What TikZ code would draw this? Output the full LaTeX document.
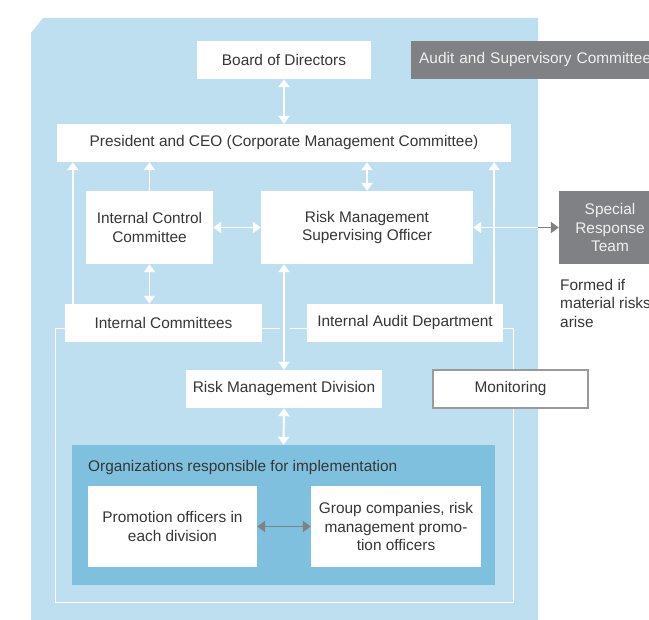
\documentclass[tikz,border=0pt]{standalone}
\usepackage{fontspec}
\setmainfont{Liberation Sans}
\usetikzlibrary{arrows.meta, positioning}
\definecolor{paleblue}{HTML}{BEDFEF}
\definecolor{midblue}{HTML}{7EC0DE}
\definecolor{boxgray}{HTML}{808184}
\definecolor{inkgray}{HTML}{363636}

\begin{document}
\begin{tikzpicture}[
  x=1pt, y=-1pt,
  box/.style={fill=white, align=center, text=inkgray, inner sep=0pt,
              minimum height=38pt},
  graybox/.style={fill=boxgray, text=white!88!boxgray, inner sep=0pt,
              minimum height=38pt},
  arr/.style={draw=white, line width=1.9pt},
  grayarr/.style={draw=boxgray, line width=1.9pt},
  frame/.style={draw=white, line width=0.9pt},
  >={Triangle[length=8pt, width=11pt]},
  font=\fontsize{15.4}{18.5}\selectfont
]
\clip (0,0) rectangle (649,620);
% background panels
\fill[paleblue] (31,33) -- (43,18) -- (538,18) -- (538,620) -- (31,620) -- cycle;
\draw[frame] (280,328) -| (55,602) -| (513,328) -- (290,328);

\node[box, minimum width=174pt] (board) at (284,60) {Board of Directors};
\node[graybox, anchor=west, text width=244pt, inner xsep=8pt, align=left]
  (audit) at (411,60) {Audit and Supervisory Committee};
\node[box, minimum width=454pt] (ceo) at (284,143)
  {President and CEO (Corporate Management Committee)};
\node[box, minimum width=127pt, minimum height=73pt] (icc) at (149.5,227.5)
  {Internal Control\\Committee};
\node[box, minimum width=212pt, minimum height=73pt] (rmso) at (367,227.5)
  {Risk Management\\Supervising Officer};
\node[graybox, minimum width=102pt, minimum height=73pt, align=center]
  (special) at (610,227.5) {Special\\Response\\Team};
\node[anchor=north west, align=left, text=inkgray, inner sep=0pt]
  (formed) at (560,279) {Formed if\\material risks\\arise};
\node[box, minimum width=197pt] (ic) at (163.5,323) {Internal Committees};
\node[box, minimum width=196pt] (iad) at (405,323) {Internal Audit Department};
\node[box, minimum width=196pt] (rmd) at (284,389) {Risk Management Division};
\node[box, draw=boxgray!80, line width=1.2pt, minimum width=155pt] (mon)
  at (510.5,389) {Monitoring};

\node[fill=midblue, minimum width=423pt, minimum height=140pt, inner sep=0pt]
  (org) at (283.5,515) {};
\node[anchor=west, text=inkgray, inner sep=0pt] (orgtitle) at (88,468)
  {Organizations responsible for implementation};
\node[box, minimum width=169pt, minimum height=81pt] (promo) at (172.5,526.5)
  {Promotion officers in\\each division};
\node[box, minimum width=170pt, minimum height=81pt] (group) at (396,526.5)
  {Group companies, risk\\management promo-\\tion officers};

% connectors
\coordinate (icup) at ([xshift=8pt]ic.north west);
\coordinate (iadup) at ([xshift=-9pt]iad.north east);
\coordinate (edge) at (538,227.5);
\draw[arr, <->] (board.south) -- (ceo.north);
\draw[arr, <->] (rmso.north) -- (rmso.north |- ceo.south);
\draw[arr, ->] (icc.north) -- (icc.north |- ceo.south);
\draw[arr, <->] (icc.east) -- (rmso.west);
\draw[arr, <->] (icc.south) -- (icc.south |- ic.north);
\draw[arr, ->] (icup) -- (icup |- ceo.south);
\draw[arr, ->] (iadup) -- (iadup |- ceo.south);
\draw[arr, <->] (rmd.north) -- (rmd.north |- rmso.south);
\draw[arr, <->] (rmd.south) -- (org.north);
\draw[arr, ->] (edge) -- (rmso.east);
\draw[grayarr, ->] (edge) -- (special.west);
\draw[grayarr, <->] (promo.east) -- (group.west);
\end{tikzpicture}
\end{document}
